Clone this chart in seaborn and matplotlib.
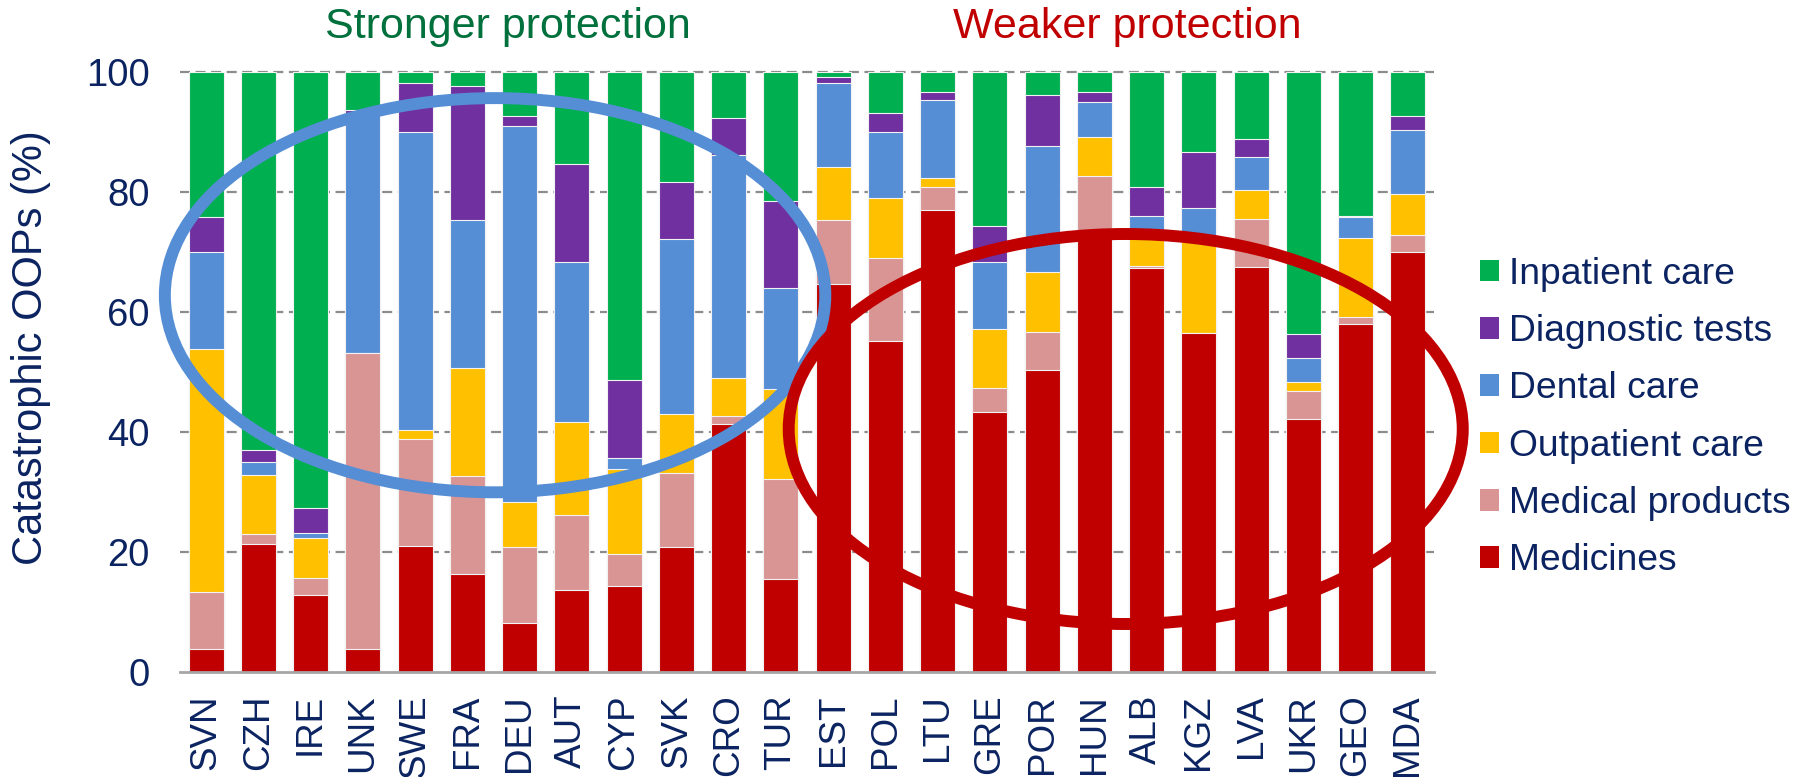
import matplotlib
matplotlib.use("Agg")
import matplotlib.pyplot as plt
import seaborn as sns
import numpy as np
import pandas as pd
from matplotlib.patches import Ellipse, Patch

# ---------------- data ----------------
countries = ["SVN", "CZH", "IRE", "UNK", "SWE", "FRA", "DEU", "AUT", "CYP", "SVK", "CRO", "TUR",
             "EST", "POL", "LTU", "GRE", "POR", "HUN", "ALB", "KGZ", "LVA", "UKR", "GEO", "MDA"]

medicines = [3.9, 21.4, 12.8, 3.9, 21.0, 16.4, 8.1, 13.7, 14.3, 20.9, 41.4, 15.5,
             64.6, 55.1, 77.0, 43.4, 50.3, 72.8, 67.3, 56.5, 67.5, 42.2, 58.0, 70.0]
medical_products = [9.5, 1.6, 2.9, 49.2, 17.8, 16.2, 12.7, 12.5, 5.4, 12.3, 1.2, 16.6,
                    10.7, 13.9, 3.8, 4.0, 6.4, 9.8, 0.3, 0.0, 8.0, 4.6, 1.2, 2.9]
outpatient = [40.4, 9.8, 6.7, 0.0, 1.5, 18.1, 7.5, 15.4, 14.1, 9.8, 6.4, 15.1,
              8.8, 10.0, 1.6, 9.8, 10.0, 6.6, 5.4, 16.0, 4.8, 1.5, 13.1, 6.8]
dental = [16.2, 2.2, 0.8, 40.0, 49.7, 24.6, 62.7, 26.8, 1.9, 29.1, 37.2, 16.8,
          14.0, 11.0, 12.9, 11.2, 21.0, 5.8, 3.0, 4.8, 5.6, 4.1, 3.5, 10.6]
diagnostic = [5.9, 2.0, 4.2, 0.5, 8.1, 22.4, 1.6, 16.2, 12.9, 9.6, 6.2, 14.5,
              1.1, 3.2, 1.3, 5.9, 8.5, 1.6, 4.9, 9.3, 2.9, 3.9, 0.2, 2.3]
inpatient = [24.1, 63.0, 72.6, 6.4, 1.9, 2.3, 7.4, 15.4, 51.4, 18.3, 7.6, 21.5,
             0.8, 6.8, 3.4, 25.7, 3.8, 3.4, 19.1, 13.4, 11.2, 43.7, 24.0, 7.4]

categories = ["Medicines", "Medical products", "Outpatient care", "Dental care",
              "Diagnostic tests", "Inpatient care"]
series = [medicines, medical_products, outpatient, dental, diagnostic, inpatient]
colors = ["#C00000", "#D99594", "#FFC000", "#558ED5", "#7030A0", "#00B050"]

group_labels = ["Stronger protection", "Weaker protection"]
yticks = [0, 20, 40, 60, 80, 100]

NAVY = "#0B2461"

# ---------------- style ----------------
sns.set_style("white")
plt.rcParams["font.family"] = ["Liberation Sans", "DejaVu Sans"]

W, H = 1806, 777
fig = plt.figure(figsize=(W / 100, H / 100), dpi=100)
ax = fig.add_axes([180 / W, 1 - 672 / H, 1254 / W, 600 / H])

# cumulative stacked bars (draw top layer first, lower layers over it)
df = pd.DataFrame({c: s for c, s in zip(categories, series)}, index=countries)
cum = df.cumsum(axis=1)
for cat, col in reversed(list(zip(categories, colors))):
    sns.barplot(x=countries, y=cum[cat].values, color=col, width=0.67,
                edgecolor="#F2F2F2", linewidth=0.8, ax=ax, zorder=2,
                saturation=1)

ax.set_xlim(-0.5, 23.5)
ax.set_ylim(0, 100)
ax.set_yticks(yticks)
ax.set_yticklabels([str(v) for v in yticks])

# gridlines
for v in yticks[1:]:
    ax.axhline(v, color="#8C8C8C", lw=1.6, ls=(0, (4.5, 2.5)), zorder=1, clip_on=False)

for s in ["top", "right", "left"]:
    ax.spines[s].set_visible(False)
ax.spines["bottom"].set_color("#A6A6A6")
ax.spines["bottom"].set_linewidth(2)
ax.spines["bottom"].set_zorder(3)

ax.tick_params(axis="y", length=0, pad=22, labelsize=27.5, labelcolor=NAVY)
ax.tick_params(axis="x", length=0, pad=16, labelsize=26.5, labelcolor=NAVY, rotation=90)
ax.set_xlabel("")
ax.set_ylabel("Catastrophic OOPs (%)", fontsize=30, color=NAVY)
ax.yaxis.set_label_coords(-0.103, 0.54)

# ellipses
ax.add_patch(Ellipse((5.53, 62.8), 12.64, 65.7, fill=False, edgecolor="#558ED5",
                     lw=8.6, zorder=5, clip_on=False))
ax.add_patch(Ellipse((17.6, 40.5), 12.9, 65.0, fill=False, edgecolor="#C00000",
                     lw=8.6, zorder=5, clip_on=False))

# group titles
fig.text(508 / W, 1 - 38 / H, group_labels[0], color="#00703C", fontsize=31,
         ha="center", va="baseline")
fig.text(1127 / W, 1 - 38 / H, group_labels[1], color="#C00000", fontsize=31,
         ha="center", va="baseline")

# legend
handles = [Patch(facecolor=c, edgecolor="none", label=l)
           for l, c in zip(categories[::-1], colors[::-1])]
fig.legend(handles=handles, loc="center left", bbox_to_anchor=(1480 / W, 1 - 417.5 / H),
           frameon=False, fontsize=26.8, labelcolor=NAVY, handlelength=0.52,
           handleheight=0.52, handletextpad=0.25, labelspacing=0.6, borderpad=0,
           borderaxespad=0)

fig.savefig("out.png", dpi=100)
